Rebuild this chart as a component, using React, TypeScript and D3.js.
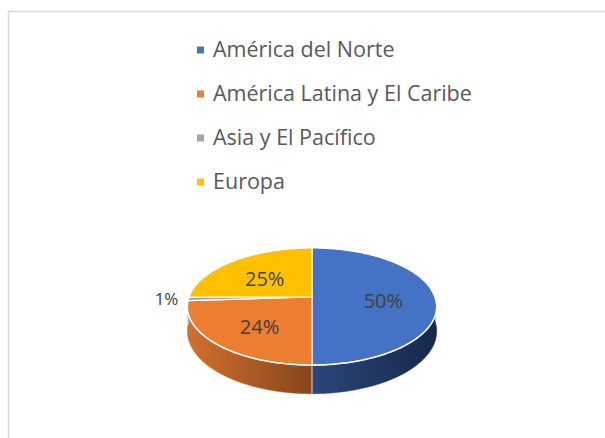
import React from "react";
import * as d3 from "d3";

const categories = ["América del Norte", "América Latina y El Caribe", "Asia y El Pacífico", "Europa"];
const values = [50, 24, 1, 25];
const labels = ["50%", "24%", "1%", "25%"];
const colors = ["#4472c4", "#ed7d31", "#a5a5a5", "#ffc000"];
const sideLight = ["#2b4679", "#d2702e", "#8a8a8a", "#c89400"];
const sideDark = ["#17284b", "#87461c", "#6a6a6a", "#a07700"];

const W = 605;
const H = 438;
const cx = 312;
const cy = 297;
const R = 123;
const B = 57;
const D = 6.15;
const DEPTH = 24;

function proj(theta: number, f: number, z: number): [number, number] {
  const u = Math.sin(theta) * f;
  const v = -Math.cos(theta) * f;
  const s = D / (D - v);
  return [cx + R * u * s, cy + B * v * s + z * DEPTH * s];
}

function arcPts(a0: number, a1: number, z: number): [number, number][] {
  const n = Math.max(2, Math.ceil(Math.abs(a1 - a0) * 60));
  return d3.range(n + 1).map((i) => proj(a0 + ((a1 - a0) * i) / n, 1, z));
}

const line = d3.line<[number, number]>();

export default function App() {
  const pie = d3.pie<number>().sort(null).startAngle(0).endAngle(Math.PI * 2);
  const arcs = pie(values);
  const legendY = d3.scaleBand<number>().domain(d3.range(categories.length)).range([27, 203]);

  const frontStart = Math.PI / 2;
  const frontEnd = (Math.PI * 3) / 2;

  return (
    <svg width={W} height={H} style={{ position: "absolute", left: 0, top: 0, background: "#fff" }}>
      <defs>
        {arcs.map((a, i) => (
          <linearGradient key={i} id={`side${i}`} gradientUnits="userSpaceOnUse" x1={i === 0 ? cx : cx - R - 2} x2={i === 0 ? cx + R + 2 : cx} y1={0} y2={0}>
            <stop offset="0" stopColor={sideLight[i]} />
            <stop offset="1" stopColor={sideDark[i]} />
          </linearGradient>
        ))}
      </defs>
      <rect x={8.5} y={11.5} width={W + 20} height={H + 20} fill="none" stroke="#d9d9d9" strokeWidth={1.5} />

      {categories.map((c, i) => {
        const y = (legendY(i) as number) + legendY.bandwidth() / 2;
        return (
          <g key={c}>
            <rect x={197} y={y - 2.5} width={7} height={7} fill={colors[i]} />
            <text x={213} y={y} dy="0.36em" fontFamily="'Open Sans', sans-serif" fontSize={21.5} fill="#595959">
              {c}
            </text>
          </g>
        );
      })}

      {/* sides */}
      {arcs.map((a, i) => {
        const s0 = Math.max(a.startAngle, frontStart);
        const s1 = Math.min(a.endAngle, frontEnd);
        if (s1 <= s0) return null;
        const top = arcPts(s0, s1, 0);
        const bot = arcPts(s0, s1, 1).reverse();
        return <path key={i} d={line([...top, ...bot])! + "Z"} fill={`url(#side${i})`} stroke={`url(#side${i})`} strokeWidth={0.5} />;
      })}
      {/* separator on the front side */}
      {arcs.map((a, i) => {
        if (a.startAngle <= frontStart || a.startAngle >= frontEnd) return null;
        const p0 = proj(a.startAngle, 1, 0);
        const p1 = proj(a.startAngle, 1, 1);
        return <line key={i} x1={p0[0]} y1={p0[1]} x2={p1[0]} y2={p1[1]} stroke="#ffffff" strokeOpacity={0.8} strokeWidth={1} />;
      })}

      {/* top faces */}
      {arcs.map((a, i) => {
        const pts = [[cx, cy] as [number, number], ...arcPts(a.startAngle, a.endAngle, 0)];
        return <path key={i} d={line(pts)! + "Z"} fill={colors[i]} stroke="#ffffff" strokeWidth={1.2} strokeLinejoin="round" />;
      })}
      {/* rim highlight */}
      <path d={line(arcPts(frontStart - 0.15, frontEnd + 0.05, 0))!} fill="none" stroke="#ffffff" strokeWidth={1.5} strokeOpacity={0.9} />

      {/* labels */}
      {arcs.map((a, i) => {
        const mid = (a.startAngle + a.endAngle) / 2;
        const inside = a.endAngle - a.startAngle > 0.2;
        if (inside) {
          const [x, y] = proj(mid, 0.58, 0);
          return (
            <text key={i} x={x} y={y + 4} textAnchor="middle" dy="0.36em" fontFamily="'Open Sans', sans-serif" fontSize={20} fill="#404040">
              {labels[i]}
            </text>
          );
        }
        const [x, y] = proj(mid, 1, 0);
        return (
          <text key={i} x={x - 10} y={y} textAnchor="end" dy="0.36em" fontFamily="'Open Sans', sans-serif" fontSize={17} fill="#404040">
            {labels[i]}
          </text>
        );
      })}
    </svg>
  );
}
